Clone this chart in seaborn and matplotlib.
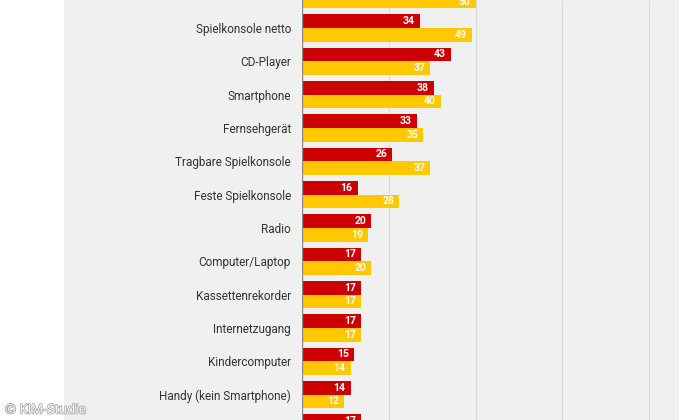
import matplotlib
matplotlib.use("Agg")
import matplotlib.pyplot as plt
import matplotlib.patheffects as pe
from matplotlib import font_manager as fm
import seaborn as sns
import pandas as pd

categories = ["Handy/Smartphone", "Spielkonsole netto", "CD-Player", "Smartphone",
              "Fernsehgerät", "Tragbare Spielkonsole", "Feste Spielkonsole", "Radio",
              "Computer/Laptop", "Kassettenrekorder", "Internetzugang", "Kindercomputer",
              "Handy (kein Smartphone)", "Tablet"]
series_names = ["Mädchen", "Jungen"]
red_values = [46, 34, 43, 38, 33, 26, 16, 20, 17, 17, 17, 15, 14, 17]
yellow_values = [50, 49, 37, 40, 35, 37, 28, 19, 20, 17, 17, 14, 12, 13]
x_ticks = [0, 25, 50, 75, 100]

RED = "#cc0000"
YELLOW = "#ffc800"
BG = "#f0f0f0"

sns.set_theme(style="white")
names = {f.name for f in fm.fontManager.ttflist}
fam = "Liberation Sans Narrow" if "Liberation Sans Narrow" in names else "Roboto"
plt.rcParams["font.family"] = [fam, "DejaVu Sans"]

df = pd.DataFrame({
    "Kategorie": categories * 2,
    "Gruppe": [series_names[0]] * len(categories) + [series_names[1]] * len(categories),
    "Wert": red_values + yellow_values,
})

W, H = 700, 420
fig = plt.figure(figsize=(7, 4.2), dpi=100)
fig.patch.set_facecolor("white")
fig.add_artist(plt.Rectangle((64 / W, 0), (679 - 64) / W, 1, transform=fig.transFigure,
                             facecolor=BG, edgecolor="none", zorder=0))

px_per_unit = 3.47
x0 = 302
xmax = (679 - x0) / px_per_unit
ax = fig.add_axes([x0 / W, 0, (679 - x0) / W, 1])
ax.set_facecolor("none")

sns.barplot(data=df, y="Kategorie", x="Wert", hue="Gruppe", order=categories,
            hue_order=series_names, palette=[RED, YELLOW], width=0.82,
            orient="h", ax=ax, legend=False, saturation=1, edgecolor="none")

from matplotlib.transforms import offset_copy
lbl_tr = offset_copy(ax.transData, fig=fig, x=-5, y=0, units="dots")
for c in ax.containers:
    for bar in c:
        w = bar.get_width()
        yc = bar.get_y() + bar.get_height() / 2
        ax.text(w, yc, f"{int(round(w))}", transform=lbl_tr, ha="right", va="center",
                color="white", fontsize=7.5, fontweight="bold")

row_px = 33.33
top_val = (0 - 28) / row_px + 1
bot_val = (H - 28) / row_px + 1
ax.set_ylim(bot_val, top_val)
ax.set_xlim(0, xmax)
ax.set_xticks(x_ticks)
ax.set_xticklabels([])
ax.xaxis.grid(True, color="#dcdcdc", linewidth=0.8)
ax.set_axisbelow(True)
ax.axvline(0, color="#888888", linewidth=1.0, zorder=3)
for s in ax.spines.values():
    s.set_visible(False)
ax.set_xlabel("")
ax.set_ylabel("")
ax.tick_params(axis="y", length=0, pad=8, labelsize=8.5, labelcolor="#333333")
ax.tick_params(axis="x", length=0)

fig.text(5 / W, 1 - 410 / H, "© KIM-Studie", fontsize=9.5, color="white",
         va="center", ha="left", family=["Open Sans", "DejaVu Sans"],
         path_effects=[pe.withStroke(linewidth=1.2, foreground="#a8a8a8")])

fig.savefig("out.png", dpi=100)
